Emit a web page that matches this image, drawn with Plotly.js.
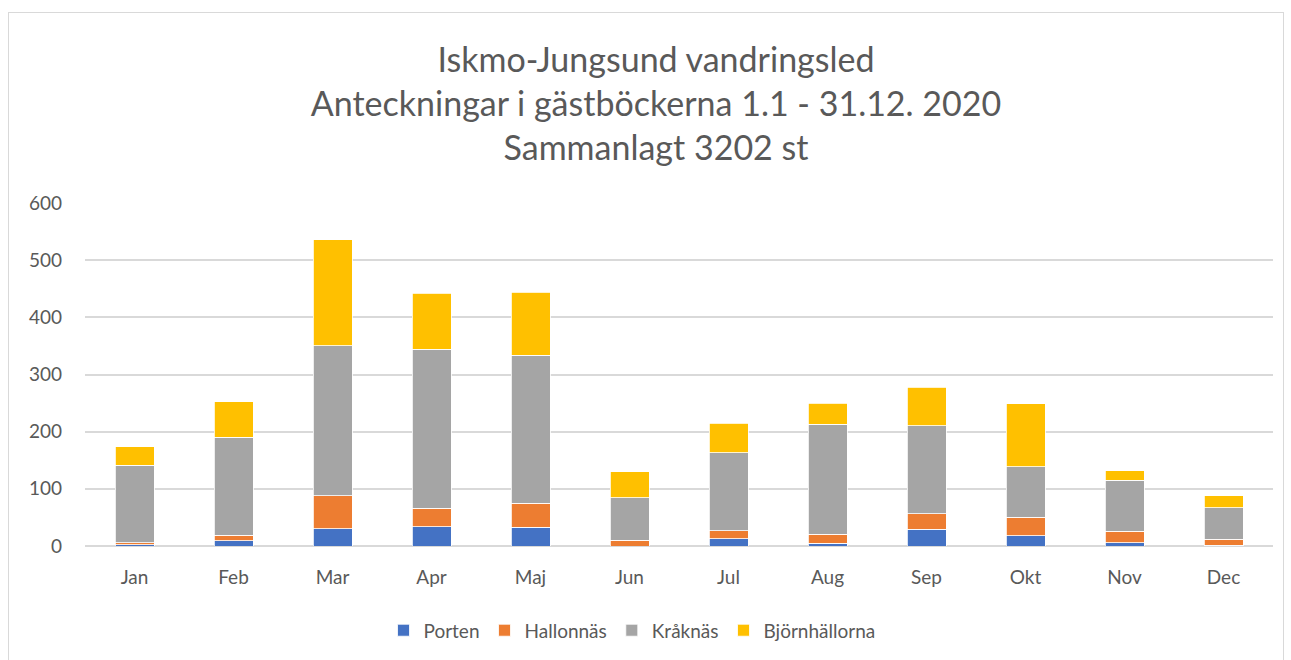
<!DOCTYPE html>
<html>
<head>
<meta charset="utf-8">
<script src="https://cdn.plot.ly/plotly-3.0.1.min.js"></script>
<style>
  html, body { margin: 0; padding: 0; background: #fff; }
  #wrap { position: relative; width: 1291px; height: 660px; overflow: hidden; }
  #chart { width: 1291px; height: 660px; }
  #frame { position: absolute; left: 8px; top: 12px; width: 1276px; height: 700px;
           border: 1.5px solid #d9d9d9; pointer-events: none; box-sizing: border-box; }
</style>
</head>
<body>
<div id="wrap">
  <div id="chart"></div>
  <div id="frame"></div>
</div>
<script>
const months = ["Jan","Feb","Mar","Apr","Maj","Jun","Jul","Aug","Sep","Okt","Nov","Dec"];
const porten        = [2, 9, 30, 34, 33, 0, 13, 5, 29, 18, 6, 1];
const hallonnas     = [4, 10, 58, 32, 42, 10, 14, 16, 27, 32, 20, 11];
const kraknas       = [135, 171, 262, 278, 259, 74, 136, 192, 154, 89, 89, 55];
const bjornhallorna = [33, 62, 186, 98, 110, 46, 52, 37, 68, 110, 17, 21];

const seriesNames  = ["Porten", "Hallonnäs", "Kråknäs", "Björnhällorna"];
const seriesColors = ["#4472C4", "#ED7D31", "#A5A5A5", "#FFC000"];
const seriesValues = [porten, hallonnas, kraknas, bjornhallorna];

const titleLines = ["Iskmo-Jungsund vandringsled",
                    "Anteckningar i gästböckerna 1.1 - 31.12. 2020",
                    "Sammanlagt 3202 st"];

const FONT = "Lato, 'Open Sans', sans-serif";
const TXT = "#595959";

const traces = seriesNames.map((name, i) => ({
  type: "bar",
  name: name,
  x: months,
  y: seriesValues[i],
  marker: { color: seriesColors[i], line: { color: "#ffffff", width: 0.8 } },
  hoverinfo: "x+y+name"
}));

const layout = {
  width: 1291, height: 660,
  paper_bgcolor: "#ffffff", plot_bgcolor: "#ffffff",
  font: { family: FONT, color: TXT, size: 19 },
  margin: { l: 85, r: 18, t: 203, b: 113.5, pad: 0, autoexpand: false },
  barmode: "stack",
  bargap: 0.606,
  title: {
    text: titleLines.join("<br>"),
    font: { family: FONT, color: TXT, size: 34 },
    x: 656 / 1291, xanchor: "center", xref: "container",
    y: 1 - 72 / 660, yanchor: "top", yref: "container"
  },
  xaxis: {
    type: "category",
    showgrid: false, zeroline: false, showline: false,
    ticks: "", ticklabelstandoff: 18, tickangle: 0,
    tickfont: { family: FONT, color: TXT, size: 19 }
  },
  yaxis: {
    range: [0, 600], dtick: 100, tick0: 0,
    showgrid: true, gridcolor: "#d9d9d9", gridwidth: 1.5,
    zeroline: true, zerolinecolor: "#d9d9d9", zerolinewidth: 1.5,
    showline: false, ticks: "", ticklabelstandoff: 22,
    tickfont: { family: FONT, color: TXT, size: 19 }
  },
  legend: {
    orientation: "h", traceorder: "normal",
    x: (632 - 85) / 1188, xanchor: "center",
    y: -84.5 / 343.5, yanchor: "middle",
    font: { family: FONT, color: TXT, size: 19 },
    itemwidth: 30
  },
  showlegend: true
};

Plotly.newPlot("chart", traces, layout, { displayModeBar: false });
</script>
</body>
</html>
